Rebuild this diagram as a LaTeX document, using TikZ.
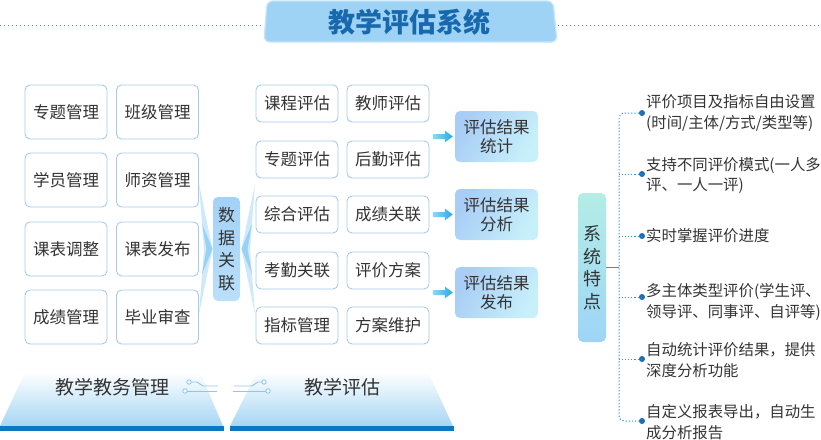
\documentclass[tikz,border=0pt]{standalone}
\usepackage{fontspec}
\setmainfont{Noto Sans CJK SC}
\usetikzlibrary{calc,arrows.meta}
\definecolor{txt}{HTML}{333333}
\definecolor{boxborder}{HTML}{A5CBEA}
\definecolor{titlefill}{HTML}{9ED3F5}
\definecolor{titleborder}{HTML}{C4E5FA}
\definecolor{titletext}{HTML}{1868AE}
\definecolor{dotblue}{HTML}{1B6DB5}
\definecolor{lineblue}{HTML}{3C8FD0}
\definecolor{barblue}{HTML}{0A78C2}
\definecolor{trapblue}{HTML}{A6D6F4}
\definecolor{circblue}{HTML}{8CC8EE}
\definecolor{resblue}{HTML}{A8CDF6}
\definecolor{rescyan}{HTML}{C8F0FA}
\definecolor{linkblue}{HTML}{A3D2F7}
\definecolor{linkblue2}{HTML}{BADFF9}
\definecolor{sysmint}{HTML}{B3EDE5}
\definecolor{sysblue}{HTML}{9ED5F7}
\definecolor{chevlight}{HTML}{C8E7FA}
\definecolor{chevdark}{HTML}{8ACBF2}
\definecolor{arrowdark}{HTML}{2AA8E2}
\definecolor{arrowlight}{HTML}{8FD8F2}
\begin{document}
\begin{tikzpicture}[x=1pt,y=-1pt,
  modbox/.style={draw=boxborder, line width=0.9pt, rounded corners=5pt, fill=white,
    minimum width=82pt, inner sep=0pt, text=txt,
    font=\fontsize{16.5}{20}\selectfont},
  leftbox/.style={modbox, minimum height=54pt},
  midbox/.style={modbox, minimum height=37pt},
  resbox/.style={rounded corners=5pt, left color=resblue, right color=rescyan, shading angle=60,
    minimum width=83pt, minimum height=51pt, inner sep=0pt, text=txt, align=center,
    font=\fontsize{16.5}{19}\selectfont},
  vbox/.style={rounded corners=5pt, inner sep=0pt, text=txt, align=center},
  feat/.style={anchor=west, inner sep=0pt, align=left, text=txt,
    font=\fontsize{15.4}{20.5}\selectfont},
  featdot/.style={circle, fill=dotblue, inner sep=0pt, minimum size=6pt},
  dotline/.style={lineblue, line width=1pt, dash pattern=on 1.3pt off 1.9pt},
  circ/.style={circblue, line width=0.9pt},
  bottomlabel/.style={text=txt, inner sep=0pt, font=\fontsize{19}{22}\selectfont}
]
\useasboundingbox (0,0) rectangle (821,439);

% ---------- title ----------
\draw[dotline, dash pattern=on 1.4pt off 2.6pt] (0,25) -- (263,25);
\draw[dotline, dash pattern=on 1.4pt off 2.6pt] (558,25) -- (821,25);
\draw[fill=titlefill, draw=titleborder, line width=1.3pt, rounded corners=6pt]
  (267,1) -- (553,1) -- (557,42) -- (264,42) -- cycle;
\node[text=titletext, inner sep=0pt, font=\fontsize{27}{30}\selectfont\bfseries] (title) at (409,22) {教学评估系统};

% ---------- chevrons around data link ----------
\fill[chevlight, opacity=0.9] (199,184) -- (212.5,249) -- (199,314) -- (204,249) -- cycle;
\fill[chevdark, opacity=0.8] (202,224) -- (212.5,249) -- (202,274) -- (206.5,249) -- cycle;
\fill[chevlight, opacity=0.9] (255,184) -- (241.5,249) -- (255,314) -- (250,249) -- cycle;
\fill[chevdark, opacity=0.8] (252,224) -- (241.5,249) -- (252,274) -- (247.5,249) -- cycle;

% ---------- left module boxes ----------
\node[leftbox] (a1) at (66,112) {专题管理};
\node[leftbox] (a2) at (157.5,112) {班级管理};
\node[leftbox] (a3) at (66,180) {学员管理};
\node[leftbox] (a4) at (157.5,180) {师资管理};
\node[leftbox] (a5) at (66,249) {课表调整};
\node[leftbox] (a6) at (157.5,249) {课表发布};
\node[leftbox] (a7) at (66,317) {成绩管理};
\node[leftbox] (a8) at (157.5,317) {毕业审查};

% ---------- data link ----------
\node[vbox, top color=linkblue, bottom color=linkblue2, minimum width=27pt, minimum height=104pt,
  font=\fontsize{17}{22.5}\selectfont] (link) at (226.5,249) {数\\据\\关\\联};

% ---------- middle boxes ----------
\node[midbox] (e1) at (297,103.5) {课程评估};
\node[midbox] (e2) at (388,103.5) {教师评估};
\node[midbox] (e3) at (297,159.5) {专题评估};
\node[midbox] (e4) at (388,159.5) {后勤评估};
\node[midbox] (e5) at (297,214.5) {综合评估};
\node[midbox] (e6) at (388,214.5) {成绩关联};
\node[midbox] (e7) at (297,270.5) {考勤关联};
\node[midbox] (e8) at (388,270.5) {评价方案};
\node[midbox] (e9) at (297,325.5) {指标管理};
\node[midbox] (e10) at (388,325.5) {方案维护};

% ---------- result boxes ----------
\node[resbox] (r1) at (496.5,136.5) {评估结果\\统计};
\node[resbox] (r2) at (496.5,214.5) {评估结果\\分析};
\node[resbox] (r3) at (496.5,292.5) {评估结果\\发布};

\foreach \r in {r1,r2,r3}{
  \shade[left color=arrowlight, right color=arrowdark]
    ($(\r.west)+(-22,-2.5)$) -- ++(12,0) -- ++(0,-3.5) -- ++(8,6) -- ++(-8,6) -- ++(0,-3.5) -- ++(-12,0) -- cycle;
}

% ---------- system features ----------
\node[vbox, top color=sysmint, bottom color=sysblue, minimum width=28pt, minimum height=149pt,
  font=\fontsize{18}{22.5}\selectfont] (sys) at (592,267.5) {系\\统\\特\\点};
\coordinate (tr) at (619,267);
\draw[lineblue, line width=1pt] (sys.east |- tr) -- (tr);

\node[featdot] (d1) at (642,113) {};
\node[featdot] (d2) at (642,174) {};
\node[featdot] (d3) at (642,236) {};
\node[featdot] (d4) at (642,297) {};
\node[featdot] (d5) at (642,359) {};
\node[featdot] (d6) at (642,421) {};

\draw[dotline, rounded corners=5pt] (d1.center) -| (tr) |- (d6.center);
\foreach \d in {d2,d3,d4,d5}{
  \draw[dotline] (\d.center) -- (\d -| tr);
}

\node[feat] (f1) at (646,113) {评价项目及指标自由设置\\(时间/主体/方式/类型等)};
\node[feat] (f2) at (646,175.5) {支持不同评价模式(一人多\\评、一人一评)};
\node[feat] (f3) at (646,236) {实时掌握评价进度};
\node[feat] (f4) at (646,302) {多主体类型评价(学生评、\\领导评、同事评、自评等)};
\node[feat] (f5) at (646,360) {自动统计评价结果，提供\\深度分析功能};
\node[feat] (f6) at (646,422) {自定义报表导出，自动生\\成分析报告};

% ---------- bottom platforms ----------
\shade[top color=white, bottom color=trapblue] (25,372) -- (200,372) -- (223,426) -- (0,426) -- cycle;
\fill[barblue] (0,426) rectangle (224,431);
\shade[top color=white, bottom color=trapblue] (257,372) -- (428,372) -- (453,426) -- (230,426) -- cycle;
\fill[barblue] (230,426) rectangle (454,431);

\node[bottomlabel] (b1) at (112,387) {教学教务管理};
\node[bottomlabel] (b2) at (342,387) {教学评估};

% circuit decorations
\draw[circ, fill=white] (189,382) circle (2.2);
\draw[circ, fill=white] (185,391) circle (2.2);
\draw[circ] (191.2,382) -- (197,382) -- (203,386) -- (218,386);
\draw[circ] (187.2,391) -- (217,391);
\draw[circ, fill=white] (264,382) circle (2.2);
\draw[circ, fill=white] (268,391) circle (2.2);
\draw[circ] (261.8,382) -- (258,382) -- (252,386) -- (234,386);
\draw[circ] (265.8,391) -- (233,391);
\end{tikzpicture}
\end{document}
